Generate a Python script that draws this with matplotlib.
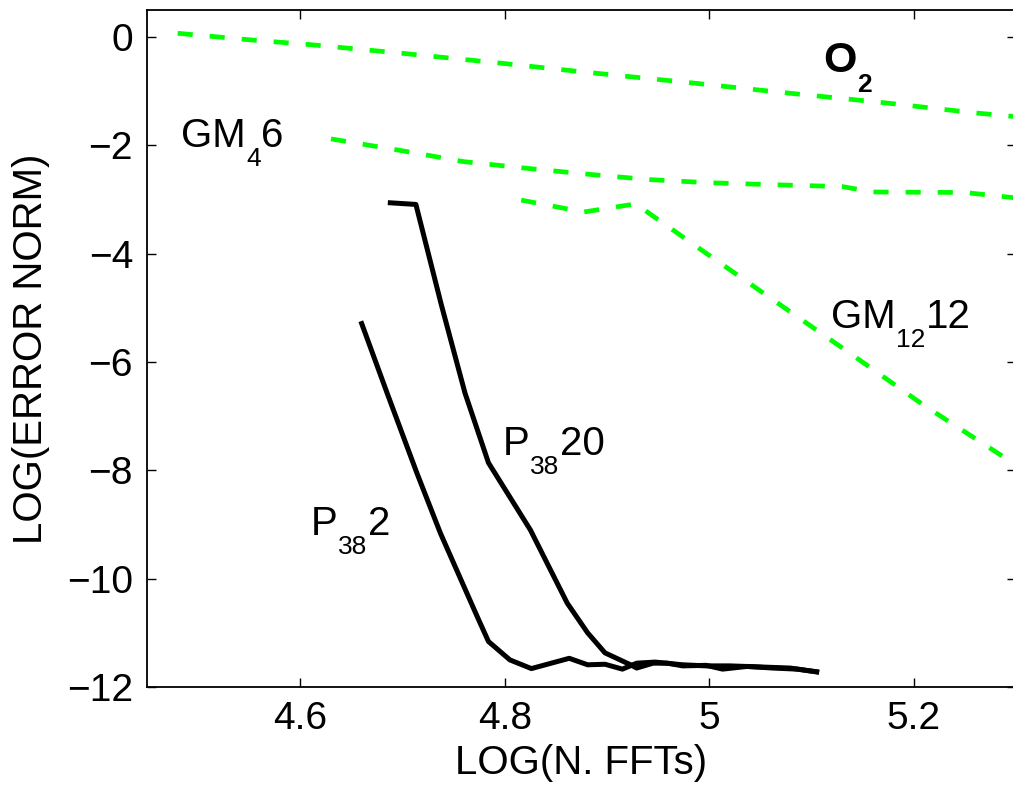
"""
Error norm vs number of FFTs (log-log) for the O2, GM and P38 schemes
"""
import matplotlib
matplotlib.use("Agg")
import matplotlib.pyplot as plt

plt.rcParams["font.family"] = ["Liberation Sans", "DejaVu Sans"]

GREEN = "#00ff00"

# O2 (green dashed)
o2_x = [4.48, 4.55, 4.61, 4.70, 4.79, 4.88, 4.98, 5.07, 5.17, 5.26, 5.30]
o2_y = [0.07, -0.05, -0.14, -0.30, -0.47, -0.65, -0.84, -1.02, -1.21, -1.40, -1.47]

# GM4 6 (green dashed)
gm4_x = [4.63, 4.70, 4.76, 4.82, 4.88, 4.94, 5.00, 5.07, 5.13, 5.16, 5.25, 5.30]
gm4_y = [-1.88, -2.10, -2.30, -2.42, -2.53, -2.63, -2.69, -2.73, -2.76, -2.86, -2.87, -2.97]

# GM12 12 (green dashed)
gm12_x = [4.816, 4.877, 4.928, 4.99, 5.06, 5.14, 5.21, 5.30]
gm12_y = [-3.01, -3.23, -3.08, -3.90, -4.82, -5.87, -6.80, -7.90]

# P38 2 (black solid)
p2_x = [4.660, 4.685, 4.714, 4.737, 4.773, 4.784, 4.805, 4.826, 4.863, 4.881,
        4.898, 4.915, 4.929, 4.947, 4.974, 4.997, 5.020, 5.050, 5.079, 5.105]
p2_y = [-5.29, -6.58, -8.05, -9.16, -10.70, -11.16, -11.50, -11.66, -11.47, -11.59,
        -11.58, -11.67, -11.56, -11.54, -11.59, -11.61, -11.61, -11.63, -11.65, -11.72]

# P38 20 (black solid)
p20_x = [4.688, 4.713, 4.738, 4.761, 4.784, 4.825, 4.861, 4.881, 4.898, 4.923,
         4.929, 4.945, 4.959, 4.974, 4.997, 5.013, 5.037, 5.062, 5.086, 5.105]
p20_y = [-3.06, -3.09, -4.95, -6.57, -7.86, -9.10, -10.45, -11.00, -11.37, -11.59,
         -11.65, -11.56, -11.56, -11.61, -11.60, -11.67, -11.62, -11.65, -11.67, -11.72]

x_ticks = [4.6, 4.8, 5.0, 5.2]
x_tick_labels = ["4.6", "4.8", "5", "5.2"]
y_ticks = [0, -2, -4, -6, -8, -10, -12]

# curve labels: (main, subscript, tail)
labels = [
    ("GM", "4", "6"),
    ("GM", "12", "12"),
    ("P", "38", "20"),
    ("P", "38", "2"),
    ("O", "2", ""),
]
label_x = [4.483, 5.119, 4.798, 4.610, 5.111]
label_y = [-2.03, -5.37, -7.72, -9.19, -0.64]


def sub_label(ax, x, y, parts, size=29, sub_size=19, weight="normal"):
    main, sub, tail = parts
    t0 = ax.text(x, y, main, fontsize=size, fontweight=weight, va="baseline")
    t1 = ax.annotate(sub, xy=(1, 0), xycoords=t0, xytext=(0.5, -11.5),
                     textcoords="offset points", fontsize=sub_size,
                     fontweight=weight, va="bottom", ha="left")
    if tail:
        ax.annotate(tail, xy=(1, 0), xycoords=(t1, t0), xytext=(0.5, 0),
                    textcoords="offset points", fontsize=size,
                    fontweight=weight, va="bottom", ha="left")


def plot_errors():
    fig = plt.figure(figsize=(10.13, 7.91), dpi=100)
    ax = fig.add_axes([147 / 1013, 104 / 791, 869 / 1013, 677 / 791])

    dash_kw = dict(color=GREEN, lw=3.4, dashes=(3.2, 3.6), dash_capstyle="butt")
    ax.plot(o2_x, o2_y, **dash_kw)
    ax.plot(gm4_x, gm4_y, **dash_kw)
    ax.plot(gm12_x, gm12_y, **dash_kw)
    ax.plot(p2_x, p2_y, color="black", lw=3.6)
    ax.plot(p20_x, p20_y, color="black", lw=3.6)

    ax.set_xlim(4.45, 5.3)
    ax.set_ylim(-12, 0.5)
    ax.set_xticks(x_ticks)
    ax.set_xticklabels(x_tick_labels)
    ax.set_yticks(y_ticks)
    ax.tick_params(direction="in", length=6.5, width=1, top=True, right=True,
                   labelsize=28, pad=10)
    for sp in ax.spines.values():
        sp.set_linewidth(1.3)

    ax.set_xlabel("LOG(N. FFTs)", fontsize=29, labelpad=5)
    ax.set_ylabel("LOG(ERROR NORM)", fontsize=29, labelpad=12)

    for i, parts in enumerate(labels):
        weight = "bold" if parts[0] == "O" else "normal"
        size = 31 if weight == "bold" else 29
        sub_label(ax, label_x[i], label_y[i], parts, size=size, weight=weight)

    fig.savefig("out.png", dpi=100)


if __name__ == "__main__":
    plot_errors()
